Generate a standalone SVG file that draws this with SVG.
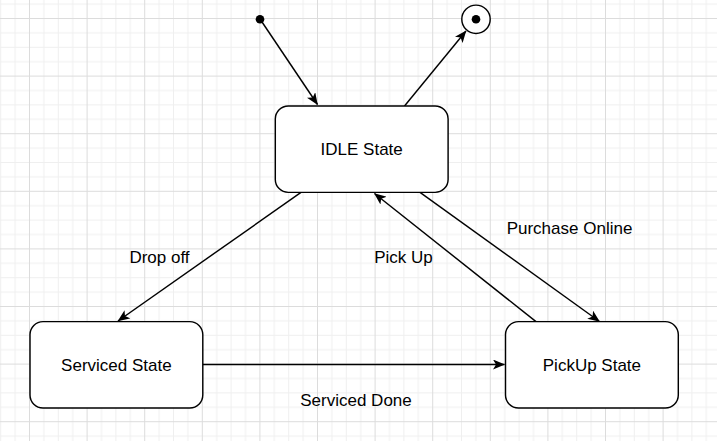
<svg xmlns="http://www.w3.org/2000/svg" width="717" height="441" viewBox="0 0 717 441">
<style>
.node rect{fill:#fff;stroke:#000;stroke-width:1.44}
.lbl{font-family:"Liberation Sans",Arial,sans-serif;font-size:17px;fill:#000;text-anchor:middle}
.edge{fill:none;stroke:#000;stroke-width:1.44;marker-end:url(#arr)}
</style>
<defs>
<pattern id="grid" x="29" y="18" width="57.6" height="57.6" patternUnits="userSpaceOnUse">
<path d="M14.9 0V57.6M29.3 0V57.6M43.7 0V57.6M0 14.9H57.6M0 29.3H57.6M0 43.7H57.6" stroke="#efefef" stroke-width="1"/>
<path d="M0.5 0V57.6M0 0.5H57.6" stroke="#dcdcdc" stroke-width="1"/>
</pattern>
<marker id="arr" markerUnits="userSpaceOnUse" viewBox="0 0 12 10" refX="11.5" refY="5" markerWidth="12" markerHeight="10" orient="auto">
<path d="M0 0L12 5L0 10L3 5Z" fill="#000"/>
</marker>
</defs>
<rect width="717" height="441" fill="#fff"/>
<rect width="717" height="441" fill="url(#grid)"/>

<g id="connectors">
<path class="edge" d="M260 19L317.5 104.5"/>
<path class="edge" d="M404.5 106L466 31"/>
<path class="edge" d="M301 192.4L118 321"/>
<path class="edge" d="M420 192.4L599.5 321.5"/>
<path class="edge" d="M536 321.6L374.5 193.5"/>
<path class="edge" d="M202.8 364.5L504.5 364.5"/>
<text class="lbl" x="159.5" y="262.5">Drop off</text>
<text class="lbl" x="403.5" y="262.5">Pick Up</text>
<text class="lbl" x="569.5" y="234">Purchase Online</text>
<text class="lbl" x="356" y="406">Serviced Done</text>
</g>

<g id="initial">
<circle cx="260" cy="19.3" r="4.3" fill="#000"/>
</g>
<g id="final">
<circle cx="476" cy="19.3" r="14.2" fill="#fff" stroke="#000" stroke-width="1.44"/>
<circle cx="476" cy="19.3" r="4.3" fill="#000"/>
</g>
<g id="idle" class="node">
<rect x="275.3" y="106" width="172.8" height="86.4" rx="13" ry="13"/>
<text class="lbl" x="361.7" y="155">IDLE State</text>
</g>
<g id="serviced" class="node">
<rect x="30" y="321.6" width="172.8" height="86.4" rx="13" ry="13"/>
<text class="lbl" x="116.4" y="371">Serviced State</text>
</g>
<g id="pickup" class="node">
<rect x="505.5" y="321.6" width="172.8" height="86.4" rx="13" ry="13"/>
<text class="lbl" x="591.9" y="371">PickUp State</text>
</g>
</svg>
